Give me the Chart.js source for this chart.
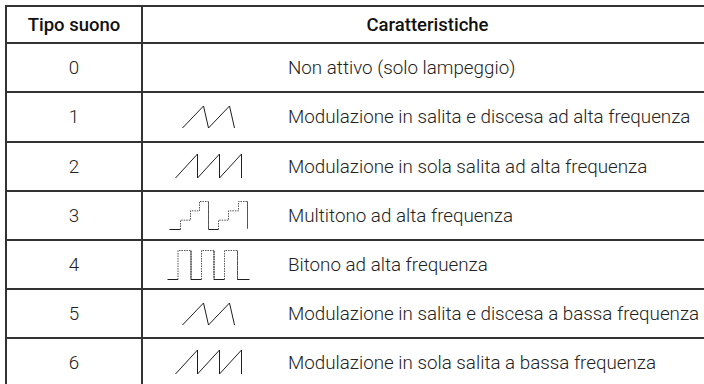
<!DOCTYPE html>
<html>
<head>
<meta charset="utf-8">
<script src="https://cdn.jsdelivr.net/npm/chart.js@4/dist/chart.umd.min.js"></script>
<style>
  html, body { margin: 0; padding: 0; background: #fff; }
  #wrap { position: relative; width: 704px; height: 384px; overflow: hidden; background: #fff; }
  .hl { position: absolute; height: 2px; background: #333; }
  .vl { position: absolute; width: 2px; background: #333; }
  .txt { position: absolute; white-space: nowrap; font-family: Roboto, "Liberation Sans", Arial, sans-serif; font-weight: 300; color: #222; font-size: 18.8px; line-height: 20px; }
  .hdr { font-weight: 500; color: #111; font-size: 18.5px; }
  canvas.icon { position: absolute; }
</style>
</head>
<body>
<div id="wrap"></div>
<script>
// ---- data ----
const headers = ['Tipo suono', 'Caratteristiche'];
const tipiSuono = ['0', '1', '2', '3', '4', '5', '6'];
const caratteristiche = [
  'Non attivo (solo lampeggio)',
  'Modulazione in salita e discesa ad alta frequenza',
  'Modulazione in sola salita ad alta frequenza',
  'Multitono ad alta frequenza',
  'Bitono ad alta frequenza',
  'Modulazione in salita e discesa a bassa frequenza',
  'Modulazione in sola salita a bassa frequenza'
];
// waveform shapes (time, level)
const salitaDiscesaT = [0, 21, 26, 47, 52];
const salitaDiscesaL = [0, 1, 0, 1, 0];
const solaSalitaT = [0, 1, 1, 2, 2, 3, 3];
const solaSalitaL = [0, 1, 0, 1, 0, 1, 0];
const multitonoT = [0, 1.1, 1.1, 2.1, 2.1, 3, 3, 3.9, 3.9, 4.9, 4.9, 5.9, 5.9, 6.9, 6.9, 7.8, 7.8];
const multitonoL = [0, 0, 1, 1, 2, 2, 3, 3, 0, 0, 1, 1, 2, 2, 3, 3, 0.1];
const bitonoT = [0, 10.5, 10.5, 23.5, 23.5, 34, 34, 46.5, 46.5, 57, 57, 70, 70, 82];
const bitonoL = [0, 0, 1, 1, 0, 0, 1, 1, 0, 0, 1, 1, 0, 0];
const iconePerRiga = [null, 'sd', 'ss', 'mt', 'bt', 'sd', 'ss'];

// ---- layout ----
const wrap = document.getElementById('wrap');
const rowEdges = [5, 42, 91, 141, 190, 239, 288, 337, 386];
const tableLeft = 5, colDiv = 141, tableRight = 714, textLeft = 288;
const iconBoxes = { // placement inside each row (left, top offset, width, height)
  sd: { l: 182, t: 14.5, w: 52, h: 22 },
  ss: { l: 175, t: 12.5, w: 66, h: 24 },
  mt: { l: 169, t: 11, w: 78, h: 28 },
  bt: { l: 167, t: 11, w: 82, h: 29 }
};
const shapes = {
  sd: [salitaDiscesaT, salitaDiscesaL, false],
  ss: [solaSalitaT, solaSalitaL, false],
  mt: [multitonoT, multitonoL, true],
  bt: [bitonoT, bitonoL, true]
};

function el(cls, style, text) {
  const d = document.createElement('div');
  d.className = cls;
  Object.assign(d.style, style);
  if (text !== undefined) d.textContent = text;
  wrap.appendChild(d);
  return d;
}

// grid lines
for (let i = 0; i < rowEdges.length - 1; i++) {
  el('hl', { left: tableLeft + 'px', top: rowEdges[i] + 'px', width: (tableRight - tableLeft) + 'px' });
}
el('vl', { left: tableLeft + 'px', top: rowEdges[0] + 'px', height: (rowEdges[8] - rowEdges[0]) + 'px' });
el('vl', { left: colDiv + 'px', top: rowEdges[0] + 'px', height: (rowEdges[8] - rowEdges[0]) + 'px' });

function centered(text, x0, x1, y0, y1, extra) {
  const d = el('txt' + (extra ? ' ' + extra : ''), {}, text);
  const w = d.getBoundingClientRect().width;
  d.style.left = ((x0 + x1) / 2 - w / 2) + 'px';
  d.style.top = ((y0 + y1) / 2 - 10 + 1) + 'px';
}
centered(headers[0], tableLeft, colDiv + 2, rowEdges[0], rowEdges[1], 'hdr');
centered(headers[1], colDiv, tableRight, rowEdges[0], rowEdges[1], 'hdr');

tipiSuono.forEach((t, i) => {
  const y0 = rowEdges[i + 1], y1 = rowEdges[i + 2];
  centered(t, tableLeft, colDiv + 2, y0, y1);
  el('txt', { left: textLeft + 'px', top: ((y0 + y1) / 2 - 10 + 1) + 'px' }, caratteristiche[i]);
});

// icons drawn with Chart.js
iconePerRiga.forEach((key, i) => {
  if (!key) return;
  const [T, L, dashed] = shapes[key];
  const box = iconBoxes[key];
  const top = rowEdges[i + 1] + 2, bottom = rowEdges[i + 2];
  const cw = 144, ch = bottom - top;
  const cLeft = colDiv + 2;
  const c = document.createElement('canvas');
  c.className = 'icon';
  c.width = cw; c.height = ch;
  c.style.left = cLeft + 'px'; c.style.top = top + 'px';
  c.style.width = cw + 'px'; c.style.height = ch + 'px';
  wrap.appendChild(c);
  const tMin = Math.min(...T), tMax = Math.max(...T);
  const upx = (tMax - tMin) / box.w;
  const xmin = tMin - (box.l - cLeft + 0.5) * upx;
  const xmax = xmin + cw * upx;
  const lMin = Math.min(...L), lMax = Math.max(...L);
  const lpx = (lMax - lMin) / box.h;
  const bottomY = rowEdges[i + 1] + box.t + box.h - top + 0.5;
  const ymin = lMin - (ch - bottomY) * lpx;
  const ymax = ymin + ch * lpx;
  const pts = T.map((t, k) => ({ x: t, y: L[k] }));
  const flatBottom = ctx => ctx.p0.parsed.y === 0 && ctx.p1.parsed.y === 0;
  new Chart(c, {
    type: 'line',
    data: { datasets: [{
      data: pts,
      borderColor: '#1e1e1e',
      borderWidth: 1,
      pointRadius: 0,
      tension: 0,
      fill: false,
      segment: dashed ? {
        borderDash: ctx => flatBottom(ctx) ? [] : [1.5, 1],
        borderColor: ctx => flatBottom(ctx) ? '#1e1e1e' : '#555'
      } : undefined
    }] },
    options: {
      responsive: false,
      animation: false,
      events: [],
      layout: { padding: 0 },
      plugins: { legend: { display: false }, tooltip: { enabled: false } },
      scales: {
        x: { type: 'linear', display: false, min: xmin, max: xmax },
        y: { type: 'linear', display: false, min: ymin, max: ymax }
      }
    }
  });
});
</script>
</body>
</html>
